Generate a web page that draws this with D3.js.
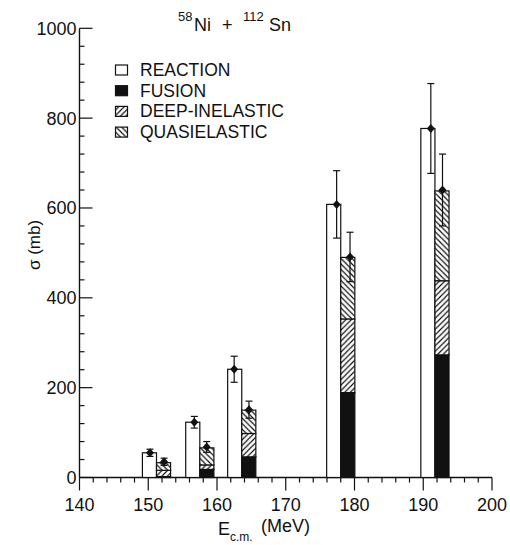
<!DOCTYPE html>
<html><head><meta charset="utf-8">
<script src="https://cdn.jsdelivr.net/npm/d3@7"></script>
<style>
body{margin:0;background:#fff}
text{font-family:"Liberation Sans",Arial,sans-serif;fill:#111}
</style>
</head><body><svg id="c" width="510" height="545"></svg>
<script>
// ---- data ----
const energies = [151.2, 157.5, 163.6, 178.0, 191.7];   // centre of each bar pair (MeV)
const reaction = [55, 123, 241, 608, 777];               // open bars (mb)
const fusion = [2, 18, 46, 189, 273];                    // black segment
const deepInelastic = [14, 10, 52, 164, 165];            // "/" hatched segment
const quasielastic = [17, 38, 52, 137, 200];             // "\" hatched segment
const reactionPointE = [150.25, 156.7, 162.5, 177.4, 191.1];
const reactionPoint = [55, 123, 241, 608, 777];
const reactionErr = [8, 13, 29, 75, 100];
const partialPointE = [152.3, 158.5, 164.65, 179.35, 192.8];
const partialPoint = [35, 68, 151, 491, 640];
const partialErr = [8, 12, 19, 55, 80];
const xTicks = [140, 150, 160, 170, 180, 190, 200];
const yTicks = [0, 200, 400, 600, 800, 1000];
const legendLabels = ["REACTION", "FUSION", "DEEP-INELASTIC", "QUASIELASTIC"];
const barWidth = 2.05; // MeV

const svg = d3.select("#c");
const x = d3.scaleLinear().domain([140, 200]).range([79.5, 492]);
const y = d3.scaleLinear().domain([0, 1000]).range([477.5, 28.3]);
const ink = "#111";

// patterns
const defs = svg.append("defs");
function hatch(id, d) {
  const p = defs.append("pattern").attr("id", id).attr("patternUnits", "userSpaceOnUse")
    .attr("width", 5.5).attr("height", 5.5);
  p.append("rect").attr("width", 5.5).attr("height", 5.5).attr("fill", "#fff");
  p.append("path").attr("d", d).attr("stroke", ink).attr("stroke-width", 1.2);
}
hatch("di", "M0,5.5 L5.5,0 M-1,1 L1,-1 M4.5,6.5 L6.5,4.5");
hatch("qe", "M0,0 L5.5,5.5 M-1,4.5 L1,6.5 M4.5,-1 L6.5,1");
const fills = ["#fff", ink, "url(#di)", "url(#qe)"];

// axes
const yMinor = d3.range(0, 1001, 40);
const xMinor = d3.range(140, 201, 2);
const g = svg.append("g");
g.append("line").attr("x1", x(140)).attr("x2", x(140)).attr("y1", y(0)).attr("y2", y(1000))
  .attr("stroke", ink).attr("stroke-width", 1.4);
g.append("line").attr("x1", x(140)).attr("x2", x(200)).attr("y1", y(0)).attr("y2", y(0))
  .attr("stroke", ink).attr("stroke-width", 1.4);
g.selectAll(".ym").data(yMinor).join("line")
  .attr("x1", x(140)).attr("x2", d => x(140) + (d % 200 === 0 ? 13 : 5))
  .attr("y1", d => y(d)).attr("y2", d => y(d)).attr("stroke", ink).attr("stroke-width", 1.2);
g.selectAll(".xm").data(xMinor).join("line")
  .attr("x1", d => x(d)).attr("x2", d => x(d))
  .attr("y1", y(0)).attr("y2", d => y(0) + (d % 10 === 0 ? 13 : 5))
  .attr("stroke", ink).attr("stroke-width", 1.2);
g.selectAll(".yl").data(yTicks).join("text")
  .attr("x", x(140) - 3).attr("y", d => y(d) + 6.5).attr("text-anchor", "end")
  .attr("font-size", 18).text(d => d);
g.selectAll(".xl").data(xTicks).join("text")
  .attr("x", d => x(d)).attr("y", 511).attr("text-anchor", "middle")
  .attr("font-size", 18).text(d => d);

// axis titles
svg.append("text").attr("transform", "translate(40,245) rotate(-90)")
  .attr("text-anchor", "middle").attr("font-size", 17).text("σ (mb)");
svg.append("text").attr("x", 218).attr("y", 535).attr("font-size", 18).text("E");
svg.append("text").attr("x", 230).attr("y", 541).attr("font-size", 12).text("c.m.");
svg.append("text").attr("x", 261).attr("y", 532).attr("font-size", 18).text("(MeV)");

// title
svg.append("text").attr("x", 178).attr("y", 21).attr("font-size", 13).text("58");
svg.append("text").attr("x", 194).attr("y", 31).attr("font-size", 18).text("Ni");
svg.append("text").attr("x", 222).attr("y", 31).attr("font-size", 18).text("+");
svg.append("text").attr("x", 243).attr("y", 21).attr("font-size", 13).text("112");
svg.append("text").attr("x", 269).attr("y", 31).attr("font-size", 18).text("Sn");

// reaction bars
svg.selectAll(".rb").data(energies).join("rect")
  .attr("x", d => x(d - barWidth)).attr("width", d => x(d) - x(d - barWidth))
  .attr("y", (d, i) => y(reaction[i])).attr("height", (d, i) => y(0) - y(reaction[i]))
  .attr("fill", "#fff").attr("stroke", ink).attr("stroke-width", 1.2);

// stacked partial bars
const stackRows = energies.map((e, i) => ({e, fusion: fusion[i], di: deepInelastic[i], qe: quasielastic[i]}));
const stack = d3.stack().keys(["fusion", "di", "qe"])(stackRows);
stack.forEach((layer, li) => {
  svg.selectAll(".s" + li).data(layer).join("rect")
    .attr("x", d => x(d.data.e)).attr("width", d => x(d.data.e + barWidth) - x(d.data.e))
    .attr("y", d => y(d[1])).attr("height", d => y(d[0]) - y(d[1]))
    .attr("fill", fills[li + 1]).attr("stroke", ink).attr("stroke-width", 1.2);
});

// error bars and diamonds
function points(es, vs, errs) {
  const gg = svg.append("g");
  es.forEach((e, i) => {
    const cx = x(e);
    gg.append("line").attr("x1", cx).attr("x2", cx).attr("y1", y(vs[i] + errs[i])).attr("y2", y(vs[i] - errs[i]))
      .attr("stroke", ink).attr("stroke-width", 1.2);
    [vs[i] + errs[i], vs[i] - errs[i]].forEach(v => gg.append("line")
      .attr("x1", cx - 3.5).attr("x2", cx + 3.5).attr("y1", y(v)).attr("y2", y(v))
      .attr("stroke", ink).attr("stroke-width", 1.2));
    const cy = y(vs[i]);
    gg.append("path").attr("d", `M${cx},${cy - 4.5}L${cx + 4},${cy}L${cx},${cy + 4.5}L${cx - 4},${cy}Z`)
      .attr("fill", ink);
  });
}
points(reactionPointE, reactionPoint, reactionErr);
points(partialPointE, partialPoint, partialErr);

// legend
const lg = svg.append("g");
legendLabels.forEach((t, i) => {
  const by = 76 + i * 20.7;
  lg.append("rect").attr("x", 115.5).attr("y", by - 11).attr("width", 12).attr("height", 10)
    .attr("fill", fills[i]).attr("stroke", ink).attr("stroke-width", 1.2);
  lg.append("text").attr("x", 140).attr("y", by).attr("font-size", 17.5).text(t);
});
</script></body></html>
